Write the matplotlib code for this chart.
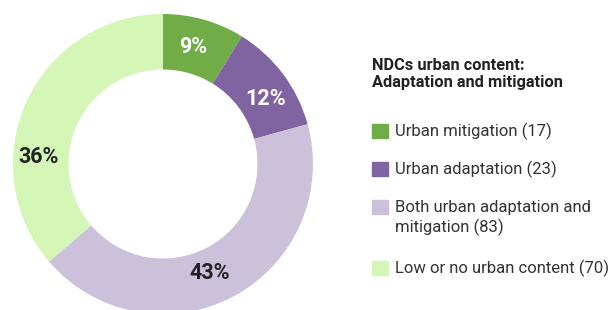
import numpy as np
import matplotlib.pyplot as plt
from matplotlib.patches import Rectangle

# Data
labels = ['Urban mitigation (17)', 'Urban adaptation (23)',
          'Both urban adaptation and\nmitigation (83)', 'Low or no urban content (70)']
counts = [17, 23, 83, 70]
pct_labels = ['9%', '12%', '43%', '36%']
colors = ['#70AD47', '#8064A2', '#CCC1DA', '#D4F6B6']
pct_colors = ['white', 'white', '#222222', '#222222']
# label placement on the ring (angle in degrees, radius)
pct_angles = [75.6, 32.5, -66.7, 176.8]
pct_radius = [0.805, 0.807, 0.79, 0.83]

plt.rcParams['font.family'] = ['Roboto', 'DejaVu Sans']

fig = plt.figure(figsize=(6.1, 3.1), dpi=100)
ax = fig.add_axes([13 / 610, -4 / 310, 300 / 610, 300 / 310])

wedges, _ = ax.pie(counts, colors=colors, startangle=90, counterclock=False,
                   radius=1.0, wedgeprops=dict(width=0.37, edgecolor='none'))
ax.set_xlim(-1, 1)
ax.set_ylim(-1, 1)
ax.set_aspect('equal')

# Percent labels on the ring
for lab, col, a, r in zip(pct_labels, pct_colors, pct_angles, pct_radius):
    ang = np.deg2rad(a)
    ax.text(r * np.cos(ang), r * np.sin(ang), lab, ha='center', va='center',
            fontsize=15.5, fontweight='bold', color=col)

# Legend drawn by hand
W, H = 610, 310
fig.text(372 / W, 1 - 74 / H, 'NDCs urban content:\nAdaptation and mitigation',
         ha='left', va='center', fontsize=11.8, fontweight='bold', color='#222222',
         linespacing=1.2)
rows = [131, 169, 218, 268]
for lab, col, y in zip(labels, colors, rows):
    n = lab.count('\n') + 1
    sq_y = y - (n - 1) * 11.5
    fig.patches.append(Rectangle((372 / W, 1 - (sq_y + 7) / H), 16 / W, 14 / H,
                                 transform=fig.transFigure, color=col))
    fig.text(395 / W, 1 - y / H, lab, ha='left', va='center', fontsize=12,
             color='#333333', linespacing=1.25)

fig.savefig('out.png', dpi=100)
